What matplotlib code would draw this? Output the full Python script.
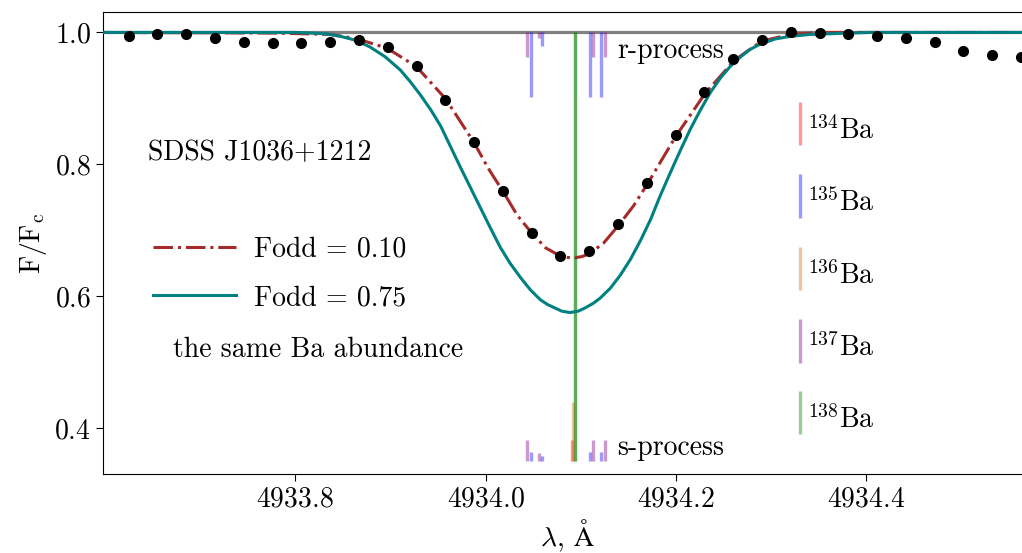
import matplotlib
matplotlib.use('Agg')
import matplotlib.pyplot as plt

plt.rcParams['font.family'] = ['cmr10', 'DejaVu Serif']
plt.rcParams['mathtext.fontset'] = 'cm'
plt.rcParams['axes.formatter.use_mathtext'] = True
plt.rcParams['axes.unicode_minus'] = False

# observed spectrum
wl_obs = [4933.6249, 4933.6551, 4933.6854, 4933.7156, 4933.7459, 4933.7761,
          4933.8064, 4933.8366, 4933.8669, 4933.8971, 4933.9274, 4933.9576,
          4933.9879, 4934.0181, 4934.0484, 4934.0786, 4934.1089, 4934.1391,
          4934.1694, 4934.1996, 4934.2299, 4934.2601, 4934.2904, 4934.3206,
          4934.3509, 4934.3811, 4934.4114, 4934.4416, 4934.4719, 4934.5021,
          4934.5324, 4934.5626]
flux_obs = [0.995, 0.998, 0.997, 0.992, 0.986, 0.984, 0.984, 0.986, 0.988,
            0.978, 0.949, 0.898, 0.834, 0.760, 0.695, 0.661, 0.668, 0.709,
            0.772, 0.845, 0.909, 0.960, 0.989, 1.000, 0.999, 0.997, 0.995,
            0.992, 0.985, 0.972, 0.965, 0.963]

# synthetic, Fodd = 0.10
wl_f10 = [4933.59, 4933.7788, 4933.8371, 4933.8658, 4933.8966, 4933.9274,
          4933.9581, 4933.9878, 4934.0027, 4934.0186, 4934.0335, 4934.0494,
          4934.0632, 4934.0781, 4934.0865, 4934.0940, 4934.1014, 4934.1088,
          4934.1237, 4934.1396, 4934.1555, 4934.1704, 4934.1852, 4934.2001,
          4934.2309, 4934.2617, 4934.2903, 4934.3211, 4934.3519, 4934.58]
flux_f10 = [1.000, 0.999, 0.997, 0.990, 0.976, 0.948,
            0.899, 0.833, 0.794, 0.758, 0.722, 0.694,
            0.673, 0.661, 0.6585, 0.658, 0.660, 0.664,
            0.680, 0.707, 0.737, 0.771, 0.807, 0.843,
            0.908, 0.958, 0.987, 0.997, 1.000, 1.000]

# synthetic, Fodd = 0.75
wl_f75 = [4933.59, 4933.80, 4933.8159, 4933.8318, 4933.8478, 4933.8637,
          4933.8785, 4933.8945, 4933.9104, 4933.9210, 4933.9316, 4933.9422,
          4933.9528, 4933.9624, 4933.9730, 4933.9836, 4933.9942, 4934.0048,
          4934.0154, 4934.0261, 4934.0367, 4934.0473, 4934.0579, 4934.0653,
          4934.0727, 4934.0802, 4934.0887, 4934.0972, 4934.1046, 4934.1131,
          4934.1205, 4934.1311, 4934.1417, 4934.1523, 4934.1630, 4934.1736,
          4934.1831, 4934.1937, 4934.2043, 4934.2150, 4934.2256, 4934.2362,
          4934.2468, 4934.2574, 4934.2680, 4934.2776, 4934.2882, 4934.3041,
          4934.3200, 4934.3412, 4934.3625, 4934.4039, 4934.58]
flux_f75 = [1.000, 1.000, 0.999, 0.998, 0.994, 0.988,
            0.978, 0.963, 0.943, 0.925, 0.905, 0.883,
            0.858, 0.829, 0.797, 0.766, 0.735, 0.704,
            0.674, 0.649, 0.628, 0.609, 0.594, 0.587,
            0.582, 0.577, 0.575, 0.577, 0.582, 0.589,
            0.597, 0.612, 0.632, 0.656, 0.685, 0.717,
            0.751, 0.786, 0.820, 0.853, 0.882, 0.909,
            0.931, 0.949, 0.963, 0.974, 0.982, 0.990,
            0.994, 0.997, 0.998, 1.000, 1.000]

# isotopic / hyperfine components
iso_names = ['134', '135', '136', '137', '138']
iso_colors = ['red', 'blue', 'chocolate', 'purple', 'green']

r_wl = [4934.0435, 4934.0557, 4934.1129, 4934.1257,
        4934.0477, 4934.0593, 4934.1100, 4934.1216,
        4934.0942]
r_iso = ['137', '137', '137', '137', '135', '135', '135', '135', '138']
r_tip = [0.963, 0.992, 0.963, 0.963, 0.902, 0.979, 0.902, 0.902, 0.35]

s_wl = [4934.0435, 4934.0557, 4934.1129, 4934.1257,
        4934.0477, 4934.0593, 4934.1100, 4934.1216,
        4934.0908, 4934.0919, 4934.0942]
s_iso = ['137', '137', '137', '137', '135', '135', '135', '135',
         '134', '136', '138']
s_tip = [0.381, 0.362, 0.381, 0.381, 0.363, 0.357, 0.363, 0.363,
         0.381, 0.440, 1.0]

key_y = [0.862, 0.752, 0.642, 0.532, 0.423]

fig = plt.figure(figsize=(10.22, 5.53), dpi=100)
ax = fig.add_axes([103 / 1022, 79 / 553, 929 / 1022, 462 / 553])

ax.axhline(1.0, color='gray', lw=2.3, zorder=1)
col = dict(zip(iso_names, iso_colors))
for w, i, t in zip(r_wl, r_iso, r_tip):
    ax.vlines(w, t, 1.0, color=col[i], alpha=0.4, lw=2.4, zorder=2)
for w, i, t in zip(s_wl, s_iso, s_tip):
    ax.vlines(w, 0.35, t, color=col[i], alpha=0.4, lw=2.4, zorder=2)

l1, = ax.plot(wl_f10, flux_f10, color='brown', ls='-.', lw=2.2, zorder=3,
              label='Fodd = 0.10')
l2, = ax.plot(wl_f75, flux_f75, color='teal', lw=2.2, zorder=4,
              label='Fodd = 0.75')
ax.plot(wl_obs, flux_obs, 'o', color='black', ms=7, zorder=5)

for name, c, y in zip(iso_names, iso_colors, key_y):
    ax.vlines(4934.3306, y - 0.033, y + 0.033, color=c, alpha=0.4, lw=2.4)
    ax.text(4934.3381, y - 0.011, r'$^{%s}$Ba' % name, fontsize=20,
            va='center', ha='left')

ax.text(4934.1385, 0.972, 'r-process', fontsize=20, va='center')
ax.text(4934.1385, 0.369, 's-process', fontsize=20, va='center')
ax.text(4933.6456, 0.817, 'SDSS J1036+1212', fontsize=20, va='center')
ax.text(4933.6716, 0.519, 'the same Ba abundance', fontsize=20, va='center')

ax.legend(handles=[l1, l2], loc='center left',
          bbox_to_anchor=(4933.6504, 0.634), bbox_transform=ax.transData,
          frameon=False, fontsize=20, borderpad=0, borderaxespad=0,
          handlelength=3.0, handletextpad=0.65, labelspacing=0.8)

ax.set_xlim(4933.598, 4934.5741)
ax.set_ylim(0.330, 1.031)
ax.set_xticks([4933.8, 4934.0, 4934.2, 4934.4])
ax.set_yticks([0.4, 0.6, 0.8, 1.0])
ax.tick_params(labelsize=20, length=5)
ax.set_xlabel(r'$\lambda$, $\mathrm{\AA}$', fontsize=20)
ax.set_ylabel(r'$\mathrm{F/F_c}$', fontsize=20)

fig.savefig('out.png', dpi=100)
